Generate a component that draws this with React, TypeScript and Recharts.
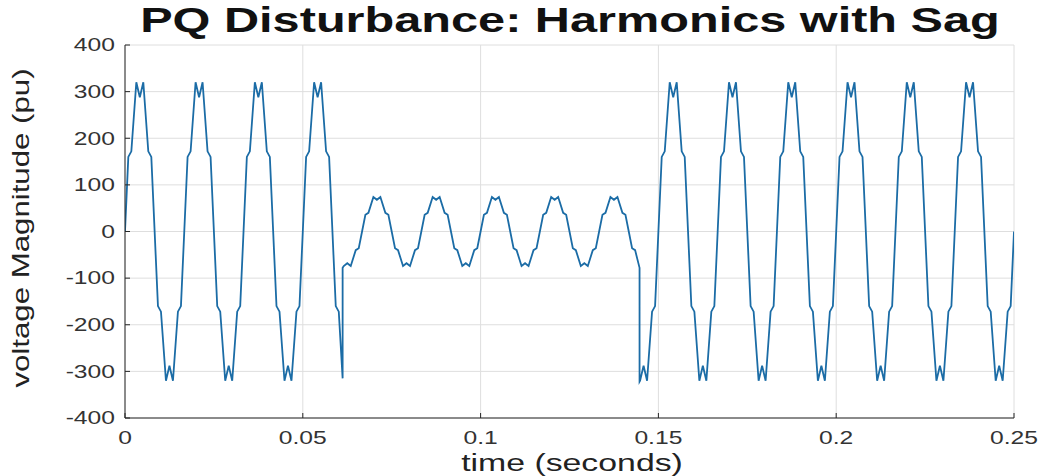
import { LineChart, Line, XAxis, YAxis, CartesianGrid } from "recharts";

const FONT = '"Liberation Sans", Arial, Helvetica, sans-serif';
const INK = "#262626";

// 60 Hz supply, 15 cycles across the 0.25 s window
const FREQ = 60;
const CYCLES = 15;

// corners of one cycle, phase as a fraction of the period
const cyclePhase = [0, 0.056, 0.107, 0.191, 0.25, 0.309, 0.393, 0.444, 0.5, 0.556, 0.607, 0.691, 0.75, 0.809, 0.893, 0.944];
// normal cycle: shoulders at ~170, twin peaks at ~320 with a dip
const normalCycle = [0, 160, 172, 320, 288, 320, 172, 160, 0, -160, -172, -320, -288, -320, -172, -160];
// sagged cycle: same staircase, peaks ~74
const sagCycle = [0, 36, 40, 74, 68, 74, 40, 36, 0, -36, -40, -74, -68, -74, -40, -36];

// sag window (s) and the jumps at its two edges
const sagTimes = [0.0612, 0.1447];
const sagStartJump = [-315, -78];
const sagEndJump = [-78, -322];

const xTicks = [0, 0.05, 0.1, 0.15, 0.2, 0.25];
const yTicks = [-400, -300, -200, -100, 0, 100, 200, 300, 400];

const points: { t: number; v: number }[] = [];
for (let k = 0; k < CYCLES; k++) {
  cyclePhase.forEach((p, i) => {
    const t = (k + p) / FREQ;
    const inSag = t > sagTimes[0] && t < sagTimes[1];
    points.push({ t, v: inSag ? sagCycle[i] : normalCycle[i] });
  });
}
points.push({ t: CYCLES / FREQ, v: normalCycle[0] });
sagStartJump.forEach((v) => points.push({ t: sagTimes[0], v }));
sagEndJump.forEach((v) => points.push({ t: sagTimes[1], v }));
points.sort((a, b) => a.t - b.t);

const XTick = ({ x, y, payload }: any) => (
  <text
    transform={`translate(${x},${y}) scale(1.37,1)`}
    textAnchor="middle"
    fontSize={18}
    fill="#333"
    fontFamily={FONT}
  >
    {String(payload.value)}
  </text>
);

const YTick = ({ x, y, payload }: any) => (
  <text
    transform={`translate(${x},${y}) scale(1.37,1)`}
    textAnchor="end"
    dy="0.35em"
    fontSize={18}
    fill="#333"
    fontFamily={FONT}
  >
    {String(payload.value)}
  </text>
);

export default function App() {
  return (
    <div
      style={{
        position: "absolute",
        left: 0,
        top: 0,
        width: 1046,
        height: 476,
        background: "#fff",
        fontFamily: FONT,
      }}
    >
      <div
        style={{
          position: "absolute",
          left: 570,
          top: 2,
          fontSize: 35,
          lineHeight: "35px",
          fontWeight: "bold",
          color: "#111",
          whiteSpace: "nowrap",
          transform: "translateX(-50%) scaleX(1.39)",
        }}
      >
        PQ Disturbance: Harmonics with Sag
      </div>
      <div
        style={{
          position: "absolute",
          left: 572,
          top: 452,
          fontSize: 23,
          lineHeight: "23px",
          color: "#222",
          whiteSpace: "nowrap",
          transform: "translateX(-50%) scaleX(1.47)",
        }}
      >
        time (seconds)
      </div>
      <div
        style={{
          position: "absolute",
          left: 21,
          top: 228,
          fontSize: 24,
          lineHeight: "24px",
          color: "#222",
          whiteSpace: "nowrap",
          transform: "translate(-50%,-50%) scaleY(1.3) rotate(-90deg)",
        }}
      >
        voltage Magnitude (pu)
      </div>
      <LineChart
        width={1046}
        height={476}
        data={points}
        margin={{ top: 45, right: 32, bottom: 0, left: 0 }}
      >
        <CartesianGrid stroke="#dedede" strokeWidth={1} />
        <XAxis
          dataKey="t"
          type="number"
          domain={[0, 0.25]}
          ticks={xTicks}
          interval={0}
          height={58}
          tickSize={-5}
          tickMargin={31}
          stroke={INK}
          tick={<XTick />}
          allowDataOverflow
        />
        <XAxis
          xAxisId="top"
          orientation="top"
          type="number"
          domain={[0, 0.25]}
          ticks={xTicks}
          interval={0}
          height={0}
          tickSize={-5}
          stroke={INK}
          tick={false}
          allowDataOverflow
        />
        <YAxis
          type="number"
          domain={[-400, 400]}
          ticks={yTicks}
          interval={0}
          width={125}
          tickSize={-5}
          tickMargin={15}
          stroke={INK}
          tick={<YTick />}
          allowDataOverflow
        />
        <YAxis
          yAxisId="right"
          orientation="right"
          type="number"
          domain={[-400, 400]}
          ticks={yTicks}
          interval={0}
          width={0}
          tickSize={-5}
          stroke={INK}
          tick={false}
          allowDataOverflow
        />
        <Line
          dataKey="v"
          type="linear"
          stroke="#1b6ca6"
          strokeWidth={1.8}
          dot={false}
          isAnimationActive={false}
        />
      </LineChart>
    </div>
  );
}
